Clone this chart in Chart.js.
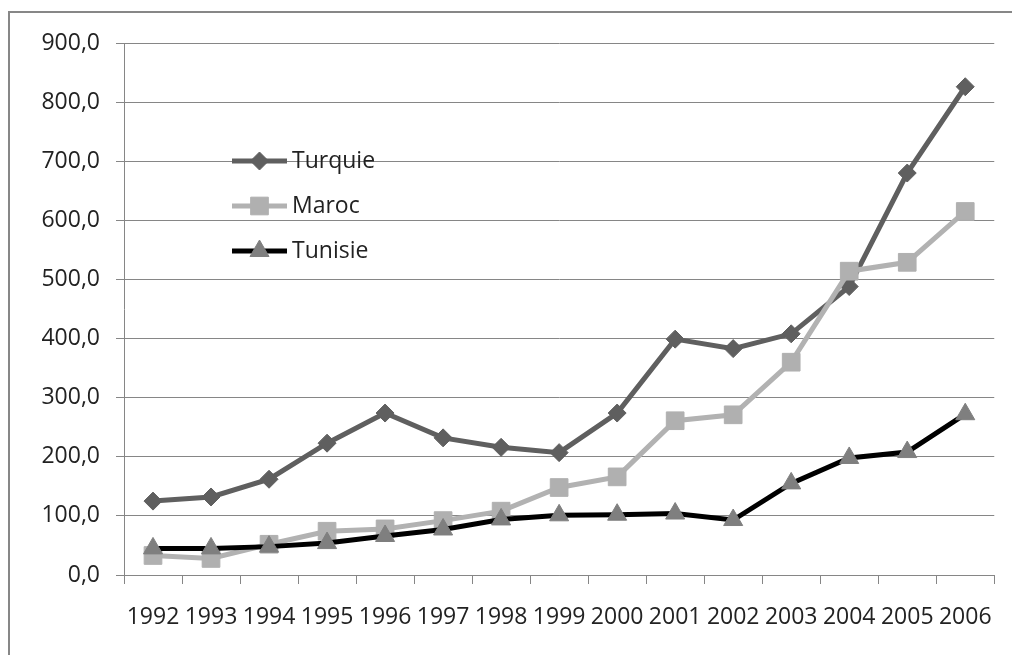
<!DOCTYPE html>
<html>
<head>
<meta charset="utf-8">
<script src="https://cdn.jsdelivr.net/npm/chart.js@4.4.0/dist/chart.umd.min.js"></script>
<style>
    html, body { margin: 0; padding: 0; background: #fff; overflow: hidden; }
    #wrap { position: relative; width: 1012px; height: 655px; }
    #frame { position: absolute; left: 8px; top: 11px; width: 1100px; height: 700px; border: 2px solid #878787; pointer-events: none; }
</style>
</head>
<body>
<div id="wrap">
    <canvas id="chart" width="1012" height="655"></canvas>
    <div id="frame"></div>
</div>
<script>
// Years on the x axis
const years = ['1992', '1993', '1994', '1995', '1996', '1997', '1998', '1999',
               '2000', '2001', '2002', '2003', '2004', '2005', '2006'];

// Series values
const turquie = [125, 132, 162, 223, 274, 232, 216, 207, 274, 399, 383, 408, 488, 680, 826];
const maroc   = [33, 28, 52, 74, 78, 92, 108, 148, 166, 261, 271, 360, 514, 529, 615];
const tunisie = [45, 45, 48, 54, 66, 77, 94, 101, 102, 104, 93, 155, 198, 208, 272];

const seriesNames = ['Turquie', 'Maroc', 'Tunisie'];

const axisColor = '#868686';
const textColor = '#222';
const labelFont = { family: '"Open Sans", sans-serif', size: 23 };

// legend drawn inside the plot area, left side
const insideLegend = {
    id: 'insideLegend',
    afterDraw(chart) {
        const ctx = chart.ctx;
        const x0 = 232, lineLen = 55, rowGap = 45, y0 = 161;
        ctx.save();
        chart.data.datasets.forEach((ds, i) => {
            const y = y0 + i * rowGap;
            ctx.strokeStyle = ds.borderColor;
            ctx.lineWidth = ds.borderWidth;
            ctx.beginPath();
            ctx.moveTo(x0, y);
            ctx.lineTo(x0 + lineLen, y);
            ctx.stroke();

            ctx.fillStyle = ds.pointBackgroundColor;
            ctx.strokeStyle = ds.pointBorderColor;
            ctx.lineWidth = ds.pointBorderWidth;
            Chart.helpers.drawPoint(ctx, {
                pointStyle: ds.pointStyle,
                radius: ds.pointRadius,
                rotation: 0,
                borderWidth: ds.pointBorderWidth
            }, x0 + lineLen / 2, y);

            ctx.fillStyle = textColor;
            ctx.font = labelFont.size + 'px ' + labelFont.family;
            ctx.textAlign = 'left';
            ctx.textBaseline = 'middle';
            ctx.fillText(ds.label, x0 + lineLen + 5, y);
        });
        ctx.restore();
    }
};

const ctx = document.getElementById('chart').getContext('2d');

new Chart(ctx, {
    type: 'line',
    data: {
        labels: years,
        datasets: [{
            label: seriesNames[0],
            data: turquie,
            borderColor: '#5f5f5f',
            borderWidth: 5,
            pointStyle: 'rectRot',
            pointRadius: 9,
            pointBackgroundColor: '#5f5f5f',
            pointBorderColor: '#5f5f5f',
            pointBorderWidth: 1,
            order: 2
        }, {
            label: seriesNames[1],
            data: maroc,
            borderColor: '#b2b2b2',
            borderWidth: 5,
            pointStyle: 'rect',
            pointRadius: 12.5,
            pointBackgroundColor: '#b0b0b0',
            pointBorderColor: '#b0b0b0',
            pointBorderWidth: 1,
            order: 1
        }, {
            label: seriesNames[2],
            data: tunisie,
            borderColor: '#000000',
            borderWidth: 5,
            pointStyle: 'triangle',
            pointRadius: 11,
            pointBackgroundColor: '#7f7f7f',
            pointBorderColor: '#7f7f7f',
            pointBorderWidth: 1,
            order: 0
        }]
    },
    options: {
        responsive: false,
        animation: false,
        devicePixelRatio: 1,
        layout: {
            padding: { top: 43, right: 11, bottom: 0, left: 0 }
        },
        plugins: {
            legend: { display: false },
            tooltip: { enabled: false }
        },
        scales: {
            x: {
                offset: true,
                grid: {
                    offset: true,
                    drawOnChartArea: false,
                    drawTicks: true,
                    tickLength: 9,
                    color: axisColor
                },
                border: { color: axisColor, width: 1 },
                ticks: {
                    autoSkip: false,
                    maxRotation: 0,
                    padding: 20,
                    color: textColor,
                    font: labelFont
                },
                afterFit: function(scale) {
                    scale.height = 80;
                }
            },
            y: {
                min: 0,
                max: 900,
                grid: {
                    color: axisColor,
                    tickLength: 8
                },
                border: { color: axisColor, width: 1 },
                ticks: {
                    stepSize: 100,
                    padding: 16,
                    color: textColor,
                    font: labelFont,
                    callback: value => value.toFixed(1).replace('.', ',')
                },
                afterFit: function(scale) {
                    scale.width = 124;
                }
            }
        }
    },
    plugins: [insideLegend]
});
</script>
</body>
</html>
